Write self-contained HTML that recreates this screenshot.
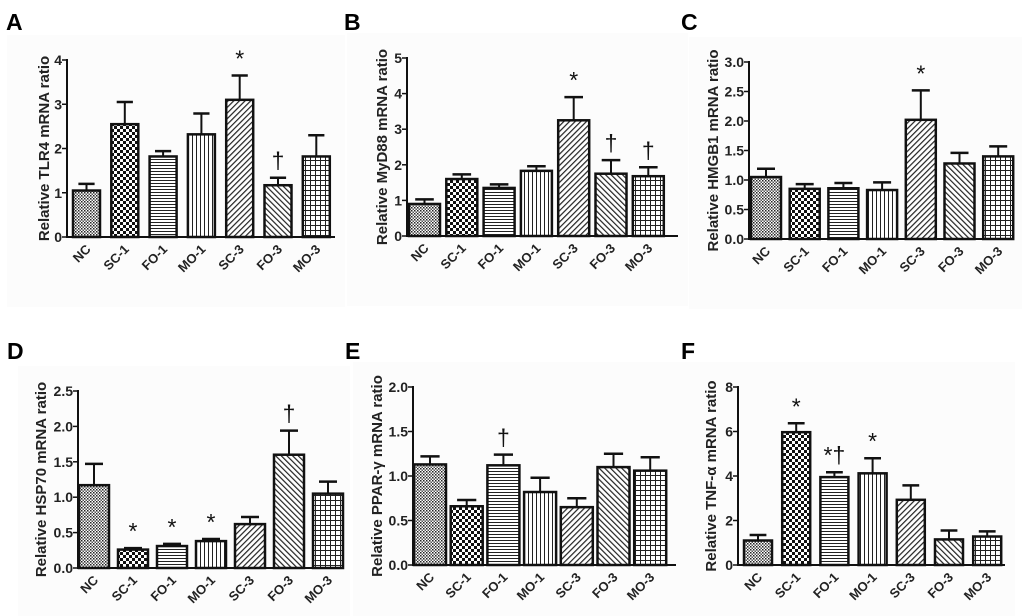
<!DOCTYPE html>
<html><head><meta charset="utf-8"><style>
html,body{margin:0;padding:0;background:#fff;}
svg{display:block;font-family:"Liberation Sans",sans-serif;}
</style></head><body>
<svg id="fig" width="1024" height="616" viewBox="0 0 1024 616" xmlns="http://www.w3.org/2000/svg">
<defs>
<pattern id="p0" width="3" height="3" patternUnits="userSpaceOnUse"><rect width="3" height="3" fill="#fff"/><rect width="1.5" height="1.5" fill="#222"/><rect x="1.5" y="1.5" width="1.5" height="1.5" fill="#555"/></pattern>
<pattern id="p1" width="6" height="6" patternUnits="userSpaceOnUse"><rect width="6" height="6" fill="#fff"/><rect width="3" height="3" fill="#111"/><rect x="3" y="3" width="3" height="3" fill="#111"/></pattern>
<pattern id="p2" width="4" height="3" patternUnits="userSpaceOnUse"><rect width="4" height="3" fill="#fff"/><rect width="4" height="1" fill="#222"/></pattern>
<pattern id="p3" width="4" height="4" patternUnits="userSpaceOnUse"><rect width="4" height="4" fill="#fff"/><rect width="1" height="4" fill="#222"/></pattern>
<pattern id="p4" width="4" height="4" patternUnits="userSpaceOnUse" patternTransform="rotate(45)"><rect width="4" height="4" fill="#fff"/><rect width="1.2" height="4" fill="#222"/></pattern>
<pattern id="p5" width="4" height="4" patternUnits="userSpaceOnUse" patternTransform="rotate(-45)"><rect width="4" height="4" fill="#fff"/><rect width="1.2" height="4" fill="#222"/></pattern>
<pattern id="p6" width="5" height="5" patternUnits="userSpaceOnUse"><rect width="5" height="5" fill="#fff"/><rect width="1" height="5" fill="#222"/><rect width="5" height="1" fill="#222"/></pattern>
</defs>
</svg>
<script>
const categories = ["NC","SC-1","FO-1","MO-1","SC-3","FO-3","MO-3"];
const tlr4Values = [1.05,2.55,1.82,2.32,3.1,1.17,1.82];
const tlr4Errors = [0.15,0.5,0.12,0.47,0.55,0.17,0.48];
const tlr4Marks = ["","","","","*","†",""];
const tlr4Ticks = ["0","1","2","3","4"];
const myd88Values = [0.9,1.6,1.35,1.83,3.25,1.75,1.68];
const myd88Errors = [0.13,0.13,0.1,0.13,0.65,0.38,0.25];
const myd88Marks = ["","","","","*","†","†"];
const myd88Ticks = ["0","1","2","3","4","5"];
const hmgb1Values = [1.05,0.85,0.86,0.83,2.02,1.28,1.4];
const hmgb1Errors = [0.14,0.08,0.09,0.13,0.5,0.18,0.17];
const hmgb1Marks = ["","","","","*","",""];
const hmgb1Ticks = ["0.0","0.5","1.0","1.5","2.0","2.5","3.0"];
const hsp70Values = [1.17,0.26,0.31,0.38,0.62,1.6,1.05];
const hsp70Errors = [0.3,0.02,0.03,0.03,0.1,0.34,0.17];
const hsp70Marks = ["","*","*","*","","†",""];
const hsp70Ticks = ["0.0","0.5","1.0","1.5","2.0","2.5"];
const pparValues = [1.13,0.66,1.12,0.82,0.65,1.1,1.06];
const pparErrors = [0.09,0.07,0.12,0.16,0.1,0.15,0.15];
const pparMarks = ["","","†","","","",""];
const pparTicks = ["0.0","0.5","1.0","1.5","2.0"];
const tnfValues = [1.1,5.97,3.95,4.12,2.93,1.15,1.28];
const tnfErrors = [0.25,0.4,0.22,0.68,0.65,0.4,0.23];
const tnfMarks = ["","*","*†","*","","",""];
const tnfTicks = ["0","2","4","6","8"];

const NS="http://www.w3.org/2000/svg";
const svg=document.getElementById('fig');
function mk(tag,attrs,parent){const e=document.createElementNS(NS,tag);for(const k in attrs)e.setAttribute(k,attrs[k]);(parent||svg).appendChild(e);return e;}

function panel(cfg){
  const g=mk('g',{});
  
  
  const max=+cfg.ticks[cfg.ticks.length-1];
  const y=v=>cfg.y0-(v/max)*(cfg.y0-cfg.yTop);
  const x=i=>cfg.bx+i*cfg.step;
  mk('rect',{x:cfg.ax-60,y:cfg.yTop-25,width:cfg.axEnd-cfg.ax+70,height:cfg.y0-cfg.yTop+95,fill:'#fcfcfc'},g);
  const L=mk('text',{x:cfg.lx,y:cfg.ly,'font-size':23,'font-weight':'bold'},g);L.textContent=cfg.letter;
  
  
  cfg.ticks.forEach((t,k)=>{
    const yy=y(+t);
    mk('line',{x1:cfg.ax-5,x2:cfg.ax,y1:yy,y2:yy,stroke:'#111','stroke-width':1.5},g);
    const tt=mk('text',{x:cfg.ax-5,y:yy+5,'font-size':14,'font-weight':'bold','text-anchor':'end',fill:'#222'},g);
    tt.textContent=t;
    
    
  });
  categories.forEach((c,i)=>{
    const v=cfg.values[i],e=cfg.errors[i];
    const bx=x(i),cx=bx+cfg.bw/2;
    const top=y(v+e);
    mk('line',{x1:cx,x2:cx,y1:y(v),y2:top,stroke:'#111','stroke-width':2},g);
    mk('line',{x1:cx-cfg.bw*0.3,x2:cx+cfg.bw*0.3,y1:top,y2:top,stroke:'#111','stroke-width':2.5},g);
    const r=mk('rect',{x:bx,y:y(v),width:cfg.bw,height:cfg.y0-y(v),fill:'url(#p'+i+')',stroke:'#111','stroke-width':2.5},g);
    
    
    if(cfg.marks[i]){
      const m=mk('text',{x:cx,y:top-9,'font-size':23,'text-anchor':'middle',fill:'#111'},g);
      m.textContent=cfg.marks[i];
      
      
    }
    const lt=mk('text',{x:cx+5,y:cfg.y0+13,'font-size':13,'font-weight':'bold','text-anchor':'end',fill:'#222',transform:`rotate(-45 ${cx+5} ${cfg.y0+13})`},g);
    lt.textContent=c;
    
    
  });
  mk('line',{x1:cfg.ax,x2:cfg.ax,y1:cfg.yTop-1,y2:cfg.y0+1,stroke:'#111','stroke-width':2},g);
  mk('line',{x1:cfg.ax-1,x2:cfg.axEnd,y1:cfg.y0,y2:cfg.y0,stroke:'#111','stroke-width':2},g);
  const ym=(cfg.y0+cfg.yTop)/2;
  const yl=mk('text',{x:cfg.ylx,y:ym,'font-size':15,'font-weight':'bold','text-anchor':'middle',fill:'#222',transform:`rotate(-90 ${cfg.ylx} ${ym})`},g);
  yl.textContent=cfg.title;
  
  
}
panel({letter:'A',lx:6,ly:30,ax:67,axEnd:335,y0:237,yTop:60,bx:73,bw:27,step:38.3,values:tlr4Values,errors:tlr4Errors,marks:tlr4Marks,ticks:tlr4Ticks,ylx:49,title:'Relative TLR4 mRNA ratio'});
panel({letter:'B',lx:344,ly:30,ax:407,axEnd:678,y0:236,yTop:58,bx:409,bw:31,step:37.3,values:myd88Values,errors:myd88Errors,marks:myd88Marks,ticks:myd88Ticks,ylx:387,title:'Relative MyD88 mRNA ratio'});
panel({letter:'C',lx:681,ly:30,ax:749,axEnd:1012,y0:239,yTop:62,bx:751,bw:30,step:38.7,values:hmgb1Values,errors:hmgb1Errors,marks:hmgb1Marks,ticks:hmgb1Ticks,ylx:718,title:'Relative HMGB1 mRNA ratio'});
panel({letter:'D',lx:7,ly:359,ax:78,axEnd:340,y0:568,yTop:391,bx:79,bw:30,step:39,values:hsp70Values,errors:hsp70Errors,marks:hsp70Marks,ticks:hsp70Ticks,ylx:46,title:'Relative HSP70 mRNA ratio'});
panel({letter:'E',lx:345,ly:359,ax:413,axEnd:676,y0:565,yTop:387,bx:414,bw:32,step:36.7,values:pparValues,errors:pparErrors,marks:pparMarks,ticks:pparTicks,ylx:382,title:'Relative PPAR-γ mRNA ratio'});
panel({letter:'F',lx:681,ly:359,ax:738,axEnd:1005,y0:565,yTop:387,bx:744,bw:28,step:38.2,values:tnfValues,errors:tnfErrors,marks:tnfMarks,ticks:tnfTicks,ylx:716,title:'Relative TNF-α mRNA ratio'});
</script>
</body></html>
